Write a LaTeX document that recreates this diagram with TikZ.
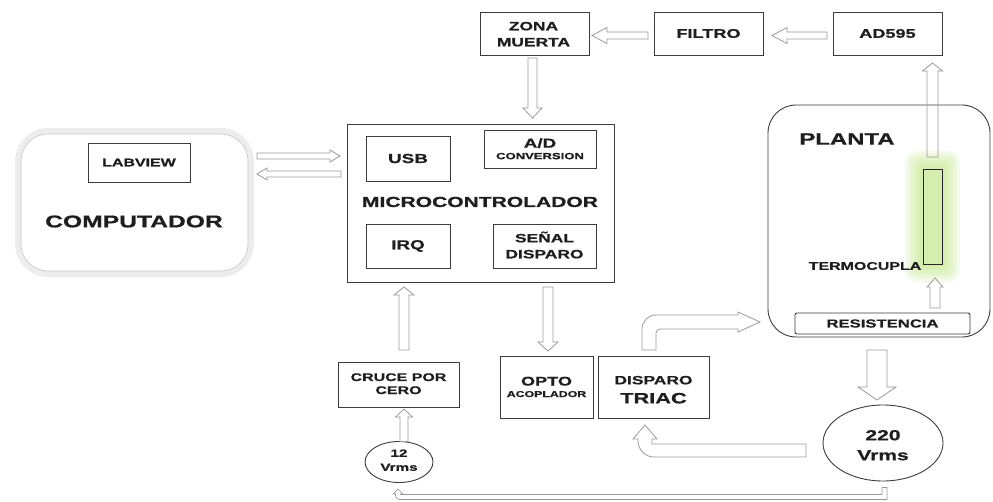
\documentclass[tikz,border=0pt]{standalone}
\usepackage{fontspec}
\setmainfont{Liberation Sans}[FakeStretch=1.45, BoldFeatures={FakeBold=0.8}]
\usetikzlibrary{calc,shadows,shapes.geometric,backgrounds}
\definecolor{txt}{HTML}{1E1E1E}
\definecolor{bx}{HTML}{3C3C3C}
\definecolor{ar}{HTML}{9A9A9A}
\definecolor{glowc}{HTML}{B5E06E}
\definecolor{tcfill}{HTML}{D6EDB0}
\newcommand\fs[1]{\fontsize{#1}{#1}\selectfont\bfseries}
\begin{document}
\begin{tikzpicture}[x=1pt,y=-1pt,
  every node/.style={outer sep=0pt},
  box/.style={draw=bx, line width=0.9pt, fill=white, inner sep=0pt, align=center, text=txt,
    drop shadow={shadow xshift=1.2pt,shadow yshift=-1.2pt,opacity=0.25}},
  lbl/.style={inner sep=0pt, text=txt},
  ell/.style={draw=bx, line width=0.9pt, ellipse, inner sep=0pt},
  barrow/.style n args={3}{draw=ar, line width=0.8pt, line join=miter, to path={
    let \p1=($(\tikztotarget)!#3!(\tikztostart)$) in
    ($(\tikztostart)!#1!90:(\tikztotarget)$) -- ($(\p1)!#1!90:(\tikztotarget)$)
    -- ($(\p1)!#2!90:(\tikztotarget)$) -- (\tikztotarget)
    -- ($(\p1)!#2!-90:(\tikztotarget)$) -- ($(\p1)!#1!-90:(\tikztotarget)$)
    -- ($(\tikztostart)!#1!-90:(\tikztotarget)$) -- cycle}},
  bentarrow/.style={draw=ar, line width=0.8pt, line join=miter},
]
\useasboundingbox (0,0) rectangle (993,502);

% ---------- COMPUTADOR ----------
\node[draw=black!7, line width=6pt, rounded corners=30pt, minimum width=233pt, minimum height=143pt] (comp) at (134.5,202.5) {};
\draw[black!22, line width=0.6pt, rounded corners=27pt] ([shift={(3pt,3pt)}]comp.south west) rectangle ([shift={(-3pt,-3pt)}]comp.north east);
\node[box, minimum width=102pt, minimum height=39pt, font=\fs{11}] (lab) at (139,162.5) {LABVIEW};
\node[lbl, font=\fs{17}] (comptxt) at (134,221.5) {COMPUTADOR};

% ---------- MICROCONTROLADOR ----------
\node[box, minimum width=267pt, minimum height=158pt] (micro) at (480.5,203) {};
\node[lbl, font=\fs{14.5}] (microtxt) at (480,202) {MICROCONTROLADOR};
\node[box, minimum width=84pt, minimum height=45pt, font=\fs{13}] (usb) at (408,158.5) {USB};
\node[box, minimum width=112pt, minimum height=38pt] (adc) at (540,149) {};
\node[lbl, font=\fs{13}, anchor=base] (adc1) at (540,147.7) {A/D};
\node[lbl, font=\fs{9}, anchor=base] (adc2) at (540,159.2) {CONVERSION};
\node[box, minimum width=84pt, minimum height=44pt, font=\fs{13}] (irq) at (408,246) {IRQ};
\node[box, minimum width=103pt, minimum height=44pt] (senal) at (544.5,246) {};
\node[lbl, font=\fs{12}, anchor=base] (senal1) at (544.5,242.3) {SEÑAL};
\node[lbl, font=\fs{12}, anchor=base] (senal2) at (544.5,258.3) {DISPARO};

% ---------- top row ----------
\node[box, minimum width=109pt, minimum height=43pt] (zona) at (534.5,33.5) {};
\node[lbl, font=\fs{12}, anchor=base] (zona1) at (533.5,30.3) {ZONA};
\node[lbl, font=\fs{12}, anchor=base] (zona2) at (533.5,46.3) {MUERTA};
\node[box, minimum width=109pt, minimum height=43pt, font=\fs{12.5}] (filtro) at (708.5,33.5) {FILTRO};
\node[box, minimum width=109pt, minimum height=43pt, font=\fs{12.5}] (ad595) at (887.5,33.5) {AD595};

% ---------- PLANTA ----------
\node[draw=bx, line width=0.9pt, rounded corners=28pt, minimum width=222pt, minimum height=232pt] (planta) at (879,221) {};
\node[lbl, font=\fs{16.5}] (plantatxt) at (847,139) {PLANTA};
\node[draw=black!85, line width=0.9pt, fill=tcfill, minimum width=19pt, minimum height=95pt, inner sep=0pt] (tc) at (932.5,216.5) {};
\begin{scope}[on background layer]
\foreach \i in {1,...,6}
  \fill[glowc, opacity=0.13, rounded corners=\i*2pt] ([shift={(-\i*3pt,-\i*3pt)}]tc.south west) rectangle ([shift={(\i*3pt,\i*3pt)}]tc.north east);
\end{scope}
\node[lbl, font=\fs{11}] (tctxt) at (865,266) {TERMOCUPLA};
\node[draw=bx, line width=0.9pt, rounded corners=2pt, minimum width=175pt, minimum height=21pt, inner sep=0pt, text=txt, font=\fs{11.5}] (resis) at (882.5,323.5) {RESISTENCIA};

% ---------- bottom row ----------
\node[box, minimum width=121pt, minimum height=45pt] (cruce) at (398.5,384.5) {};
\node[lbl, font=\fs{11}, anchor=base] (cruce1) at (398.5,381) {CRUCE POR};
\node[lbl, font=\fs{11}, anchor=base] (cruce2) at (398.5,394) {CERO};
\node[box, minimum width=93pt, minimum height=62pt] (opto) at (546.5,387) {};
\node[lbl, font=\fs{12.5}, anchor=base] (opto1) at (546.5,385.5) {OPTO};
\node[lbl, font=\fs{8.5}, anchor=base] (opto2) at (546.5,397) {ACOPLADOR};
\node[box, minimum width=111pt, minimum height=62pt] (triac) at (653.5,387) {};
\node[lbl, font=\fs{12}, anchor=base] (triac1) at (653.5,384.3) {DISPARO};
\node[lbl, font=\fs{15}, anchor=base] (triac2) at (653.5,403.4) {TRIAC};
\node[ell, minimum width=68pt, minimum height=41pt] (v12) at (399,462) {};
\node[lbl, font=\fs{10.5}, anchor=base] (v12a) at (399,456.8) {12};
\node[lbl, font=\fs{10.5}, anchor=base] (v12b) at (399,470.8) {Vrms};
\node[ell, minimum width=120pt, minimum height=76pt] (v220) at (883,443) {};
\node[lbl, font=\fs{14.5}, anchor=base] (v220a) at (883,440.2) {220};
\node[lbl, font=\fs{14.5}, anchor=base] (v220b) at (883,460.2) {Vrms};

% ---------- arrow end points ----------
\coordinate (c1s) at ([xshift=6pt,yshift=46.5pt]comp.east);
\coordinate (c1e) at ([xshift=-7pt,yshift=47pt]micro.west);
\coordinate (c2s) at ([xshift=-6pt,yshift=29pt]micro.west);
\coordinate (c2e) at ([xshift=6pt,yshift=28.5pt]comp.east);
\coordinate (c3s) at ([xshift=-6pt,yshift=-2pt]filtro.west);
\coordinate (c3e) at ([xshift=3pt,yshift=-2pt]zona.east);
\coordinate (c4s) at ([xshift=-6pt,yshift=-2pt]ad595.west);
\coordinate (c4e) at ([xshift=9pt,yshift=-2pt]filtro.east);
\coordinate (c5s) at ([xshift=-2pt,yshift=-3pt]zona.south);
\coordinate (c5e) at ([xshift=52pt,yshift=6pt]micro.north);
\coordinate (c6s) at ([yshift=12pt]tc.north);
\coordinate (c6e) at ([xshift=45pt,yshift=-8pt]ad595.south);
\coordinate (c7s) at ([xshift=52.5pt,yshift=5pt]resis.north);
\coordinate (c7e) at ([xshift=2.5pt,yshift=-14pt]tc.south);
\coordinate (c8s) at ([xshift=5.5pt,yshift=12pt]cruce.north);
\coordinate (c8e) at ([xshift=-76.5pt,yshift=-5pt]micro.south);
\coordinate (c9s) at ([xshift=67.5pt,yshift=-5pt]micro.south);
\coordinate (c9e) at ([xshift=1.5pt,yshift=5pt]opto.north);
\coordinate (c10s) at ([xshift=5pt]v12.north);
\coordinate (c10e) at ([xshift=5.5pt,yshift=-2pt]cruce.south);
\coordinate (c11s) at ([xshift=-2pt,yshift=-13pt]planta.south);
\coordinate (c11e) at ([xshift=-6pt,yshift=5pt]v220.north);
\coordinate (b1s) at ([xshift=-4.5pt,yshift=6pt]triac.north);
\coordinate (b1e) at ([xshift=-8pt,yshift=-101pt]planta.west);
\coordinate (b2s) at ([xshift=-17pt,yshift=-7.5pt]v220.west);
\coordinate (b2e) at ([xshift=-8.5pt,yshift=-7pt]triac.south);
\coordinate (b3s) at ([xshift=1.5pt,yshift=-6.5pt]v220.south);
\coordinate (b3e) at ([xshift=-1pt,yshift=-6.5pt]v12.south);

% ---------- straight block arrows ----------
\draw[barrow={3pt}{6pt}{10pt}] (c1s) to (c1e);
\draw[barrow={3pt}{6pt}{10pt}] (c2s) to (c2e);
\draw[barrow={3.5pt}{8pt}{15pt}] (c3s) to (c3e);
\draw[barrow={3.5pt}{8pt}{15pt}] (c4s) to (c4e);
\draw[barrow={4.5pt}{9.5pt}{10pt}] (c5s) to (c5e);
\draw[barrow={5.5pt}{10pt}{8pt}] (c6s) to (c6e);
\draw[barrow={5pt}{8pt}{9pt}] (c7s) to (c7e);
\draw[barrow={5pt}{10pt}{8pt}] (c8s) to (c8e);
\draw[barrow={5pt}{10pt}{9pt}] (c9s) to (c9e);
\draw[barrow={4pt}{8.5pt}{8pt}] (c10s) to (c10e);
\draw[barrow={10pt}{19pt}{13pt}] (c11s) to (c11e);

% ---------- bent block arrows ----------
\draw[bentarrow] let \p1=(b1s), \p2=(b1e) in
  (\x1-7pt,\y1) -- (\x1-7pt,\y2-7pt) arc[start angle=180,end angle=90,radius=14pt]
  -- (\x2-22pt,\y2+7pt) -- (\x2-22pt,\y2+10pt) -- (\x2,\y2) -- (\x2-22pt,\y2-10pt)
  -- (\x2-22pt,\y2-7pt) -- (\x1+11pt,\y2-7pt) arc[start angle=90,end angle=180,radius=4pt]
  -- (\x1+7pt,\y1) -- cycle;
\draw[bentarrow] let \p1=(b2s), \p2=(b2e) in
  (\x1,\y1+6.5pt) -- (\x2+7pt,\y1+6.5pt) -- (\x2+7pt,\y2-14pt) -- (\x2+12pt,\y2-14pt)
  -- (\x2,\y2) -- (\x2-12pt,\y2-14pt) -- (\x2-7pt,\y2-14pt) -- (\x2-7pt,\y1+9.5pt)
  arc[start angle=180,end angle=270,radius=16pt] -- (\x1,\y1-6.5pt) -- cycle;
\draw[bentarrow, line width=0.7pt] let \p1=(b3s), \p2=(b3e) in
  (\x1-2.5pt,\y1) -- (\x1+2.5pt,\y1) -- (\x1+2.5pt,\y2-10.5pt) -- (\x2+1.5pt,\y2-10.5pt)
  arc[start angle=270,end angle=180,radius=4pt] -- (\x2-2.5pt,\y2-5pt) -- (\x2-5pt,\y2-5pt)
  -- (\x2,\y2) -- (\x2+5pt,\y2-5pt) -- (\x2+2.5pt,\y2-5pt) -- (\x2+2.5pt,\y2-5.5pt)
  -- (\x1-2.5pt,\y2-5.5pt) -- cycle;
\end{tikzpicture}
\end{document}
